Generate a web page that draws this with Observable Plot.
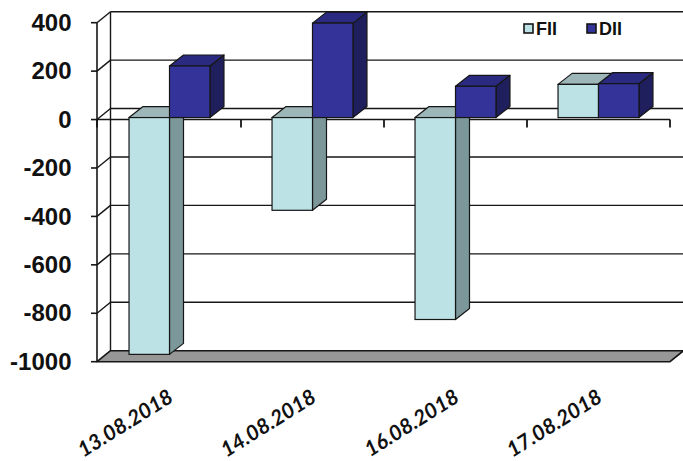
<!DOCTYPE html>
<html>
<head>
<meta charset="utf-8">
<script src="https://cdn.jsdelivr.net/npm/d3@7"></script>
<script src="https://cdn.jsdelivr.net/npm/@observablehq/plot@0.6"></script>
<style>
  html, body { margin: 0; padding: 0; background: #fff; }
  #chart svg { display: block; }
</style>
</head>
<body>
<div id="chart"></div>
<script>
// Net flows (Rs crore) by trading day
const dates = ["13.08.2018", "14.08.2018", "16.08.2018", "17.08.2018"];
const fiiValues = [-978, -383, -834, 137];
const diiValues = [213, 390, 129, 140];
const seriesNames = ["FII", "DII"];
const yTicks = [400, 200, 0, -200, -400, -600, -800, -1000];

const faces = {
  FII: {front: "#bce2e5", side: "#7b9799", top: "#9db6b7"},
  DII: {front: "#333399", side: "#1f1f5e", top: "#2a2a80"}
};

const rows = dates.flatMap((date, i) => [
  {date, series: "FII", value: fiiValues[i]},
  {date, series: "DII", value: diiValues[i]}
]);

const wallDepth = {dx: 13.5, dy: -11};   // receding offset of the back wall
const barDepth = {dx: 14, dy: -11};      // receding offset of each column
const barLift = -2;                      // columns sit slightly behind the front plane
const ink = "#161616";
const NS = "http://www.w3.org/2000/svg";

function el(name, attrs) {
  const e = document.createElementNS(NS, name);
  for (const k in attrs) e.setAttribute(k, attrs[k]);
  return e;
}
function poly(points, fill, w = 1.2) {
  return el("polygon", {
    points: points.map(p => p.join(",")).join(" "),
    fill, stroke: ink, "stroke-width": w, "stroke-linejoin": "round"
  });
}
function seg(x1, y1, x2, y2, w = 1.4) {
  return el("line", {x1, y1, x2, y2, stroke: ink, "stroke-width": w});
}

// Walls, gridlines, floor and the two front axes
function walls(index, {x, y}, values, {width, marginLeft, marginRight}) {
  const g = el("g", {});
  const x0 = marginLeft, x1 = width - marginRight;
  const bx = x0 + wallDepth.dx;
  const lo = d3.min(yTicks), hi = d3.max(yTicks);

  // gridlines along the side wall and across the back wall
  for (const t of yTicks) {
    if (t === lo) continue;
    const yy = y(t);
    g.append(seg(x0, yy, bx, yy + wallDepth.dy));
    g.append(seg(bx, yy + wallDepth.dy, width, yy + wallDepth.dy));
  }
  // back corner of the side wall
  g.append(seg(bx, y(hi) + wallDepth.dy, bx, y(lo) + wallDepth.dy));

  // floor slab
  const yl = y(lo);
  g.append(poly([[x0, yl], [x1, yl], [x1 + wallDepth.dx, yl + wallDepth.dy], [bx, yl + wallDepth.dy]], "#979797", 1.6));

  // value axis with ticks
  g.append(seg(x0, y(hi), x0, yl, 1.6));
  for (const t of yTicks) g.append(seg(x0 - 6, y(t), x0, y(t), 1.6));

  // category axis on the zero line with boundary ticks
  const y0 = y(0);
  g.append(seg(x0, y0, x1, y0, 1.6));
  const bw = x.bandwidth();
  const edges = [x0, ...dates.map(d => x(d) + bw)];
  for (const e of edges) g.append(seg(e, y0, e, y0 + 8, 1.8));
  return g;
}

// 3-D columns: side face, top face, then the front face
function columns(index, {x, y}) {
  const g = el("g", {});
  const bw = x.bandwidth();
  const w = bw * 0.283;
  const {dx, dy} = barDepth;
  for (const r of rows) {
    const cx = x(r.date) + bw / 2;
    const left = r.series === "FII" ? cx - w : cx;
    const right = left + w;
    const ya = y(0) + barLift, yb = y(r.value) + barLift;
    const top = Math.min(ya, yb), bot = Math.max(ya, yb);
    const f = faces[r.series];
    g.append(poly([[right, top], [right + dx, top + dy], [right + dx, bot + dy], [right, bot]], f.side));
    g.append(poly([[left, top], [left + dx, top + dy], [right + dx, top + dy], [right, top]], f.top));
    g.append(el("rect", {x: left, y: top, width: w, height: bot - top, fill: f.front, stroke: ink, "stroke-width": 1.2}));
  }
  return g;
}

// Legend in the upper right of the back wall
function legend(index, scales, values, {width}) {
  const g = el("g", {
    "font-family": "'Liberation Sans', Arial, sans-serif", "font-weight": "bold",
    "font-size": 18, "text-anchor": "start"
  });
  const items = [{name: seriesNames[0], x: width - 159}, {name: seriesNames[1], x: width - 96}];
  for (const it of items) {
    g.append(el("rect", {x: it.x, y: 24, width: 9, height: 9, fill: faces[it.name].front, stroke: ink, "stroke-width": 1.6}));
    const t = el("text", {x: it.x + 12, y: 35, fill: "#111"});
    t.textContent = it.name;
    g.append(t);
  }
  return g;
}

const chart = Plot.plot({
  width: 683,
  height: 461,
  marginLeft: 97,
  marginRight: 13,
  marginTop: 22.7,
  marginBottom: 99.3,
  x: {type: "band", domain: dates, padding: 0, axis: null},
  y: {domain: [-1000, 400], axis: null},
  marks: [
    walls,
    columns,
    legend,
    Plot.text(yTicks, {
      y: d => d, text: d => String(d), frameAnchor: "left", dx: -26, textAnchor: "end",
      fontSize: 24, fontWeight: "bold", fontFamily: "'Liberation Sans', Arial, sans-serif", fill: "#111"
    }),
    Plot.text(dates, {
      x: d => d, y: () => -1000, text: d => d, rotate: -32, textAnchor: "end", dy: 33, dx: 1,
      fontSize: 21, fontWeight: "bold", fontStyle: "italic", fontFamily: "Lato, 'Liberation Sans', sans-serif", fill: "#111"
    })
  ]
});

document.getElementById("chart").append(chart);
</script>
</body>
</html>
